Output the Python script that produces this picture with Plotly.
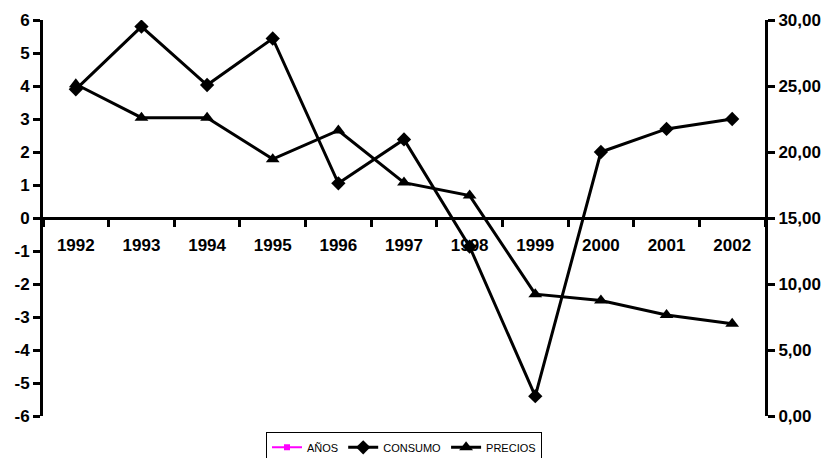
import plotly.graph_objects as go

# Years on the category axis
years = ["1992", "1993", "1994", "1995", "1996", "1997",
         "1998", "1999", "2000", "2001", "2002"]

# AÑOS series (the year numbers themselves, off the left scale)
anios = [1992, 1993, 1994, 1995, 1996, 1997, 1998, 1999, 2000, 2001, 2002]

# Consumption growth (%), left axis
consumo = [3.9, 5.8, 4.03, 5.44, 1.05, 2.38, -0.87, -5.4, 2.0, 2.7, 3.0]

# Price inflation (%), right axis
precios = [25.13, 22.6, 22.59, 19.46, 21.63, 17.68, 16.7, 9.23, 8.75, 7.65, 6.99]

left_ticks = list(range(-6, 7))
left_labels = [str(v) for v in left_ticks]
right_ticks = [0, 5, 10, 15, 20, 25, 30]

FONT = "Liberation Sans, Arial, sans-serif"
tick_font = dict(family=FONT, size=17, color="black", weight="bold")

fig = go.Figure()

fig.add_trace(go.Scatter(
    x=years, y=anios, name="AÑOS", mode="lines+markers",
    line=dict(color="#ff00ff", width=2),
    marker=dict(symbol="square", size=6, color="#ff00ff"),
    xaxis="x", yaxis="y",
))
fig.add_trace(go.Scatter(
    x=years, y=consumo, name="CONSUMO", mode="lines+markers",
    line=dict(color="black", width=3),
    marker=dict(symbol="diamond", size=11, color="black"),
    xaxis="x", yaxis="y",
))
fig.add_trace(go.Scatter(
    x=years, y=precios, name="PRECIOS", mode="lines+markers",
    line=dict(color="black", width=3),
    marker=dict(symbol="triangle-up", size=12, color="black"),
    xaxis="x", yaxis="y2",
))

axis_line = dict(showline=True, linecolor="black", linewidth=3,
                 showgrid=False, zeroline=False)

fig.update_layout(
    width=836, height=458,
    margin=dict(l=43, r=71, t=20, b=42, autoexpand=False),
    paper_bgcolor="white", plot_bgcolor="white",
    separators=",.",
    showlegend=True,
    legend=dict(
        orientation="h", x=0.5, xanchor="center", y=-0.04, yanchor="top",
        bordercolor="black", borderwidth=1, bgcolor="white",
        font=dict(family=FONT, size=11, color="black"),
        itemwidth=30, tracegroupgap=0,
    ),
    # category axis crossing the left axis at zero
    xaxis=dict(
        type="category", categoryarray=years, range=[-0.5, 10.5],
        anchor="free", position=0.5, side="bottom",
        tickson="boundaries", ticks="outside", ticklen=7, tickwidth=3,
        tickcolor="black", tickfont=tick_font, ticklabelstandoff=11,
        **axis_line,
    ),
    # inward half of the crossing tick marks on the category axis
    xaxis2=dict(
        type="linear", range=[-0.5, 10.5], overlaying="x",
        anchor="free", position=0.5, side="bottom",
        tickvals=[i - 0.5 for i in range(12)], ticks="inside",
        ticklen=7, tickwidth=3, tickcolor="black",
        showticklabels=False, showline=False, showgrid=False, zeroline=False,
    ),
    yaxis=dict(
        range=[-6, 6], tickvals=left_ticks, ticktext=left_labels,
        ticks="outside", ticklen=7,
        tickwidth=3, tickcolor="black", tickfont=tick_font,
        **axis_line,
    ),
    yaxis2=dict(
        range=[0, 30], tickvals=right_ticks, tickformat=".2f",
        overlaying="y", side="right", anchor="x",
        ticks="outside", ticklen=7, tickwidth=3, tickcolor="black",
        tickfont=tick_font, **axis_line,
    ),
    yaxis3=dict(
        range=[-6, 6], tickvals=left_ticks, overlaying="y", side="left",
        anchor="x", ticks="inside", ticklen=7, tickwidth=3, tickcolor="black",
        showticklabels=False, showline=False, showgrid=False, zeroline=False,
    ),
    yaxis4=dict(
        range=[0, 30], tickvals=right_ticks, overlaying="y", side="right",
        anchor="x", ticks="inside", ticklen=7, tickwidth=3, tickcolor="black",
        showticklabels=False, showline=False, showgrid=False, zeroline=False,
    ),
)

fig.write_html("out.html")
